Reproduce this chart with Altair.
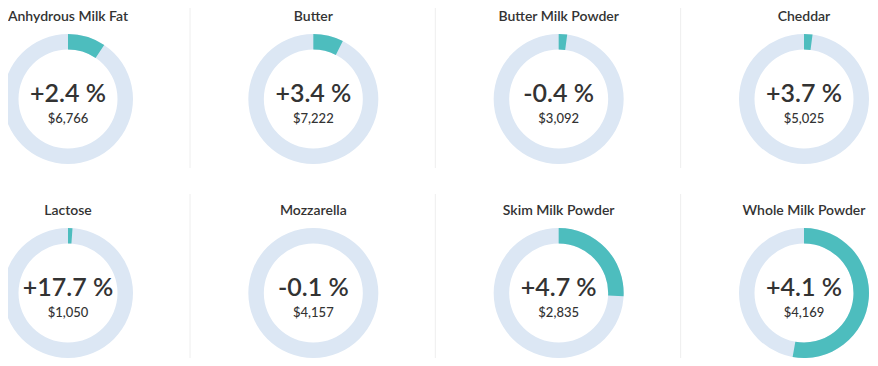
import altair as alt
import pandas as pd

names = ["Anhydrous Milk Fat", "Butter", "Butter Milk Powder", "Cheddar",
         "Lactose", "Mozzarella", "Skim Milk Powder", "Whole Milk Powder"]
changes = [2.4, 3.4, -0.4, 3.7, 17.7, -0.1, 4.7, 4.1]
prices = [6766, 7222, 3092, 5025, 1050, 4157, 2835, 4169]
shares = [0.094, 0.075, 0.021, 0.021, 0.011, 0.0, 0.258, 0.528]

rows = []
for i, (n, c, p, s) in enumerate(zip(names, changes, prices, shares)):
    rows.append({
        "name": n,
        "change": c,
        "price": p,
        "share": s,
        "col": i % 4,
        "row": i // 4,
        "change_label": ("+" if c > 0 else "") + f"{c:.1f} %",
        "price_label": f"${p:,}",
    })
df = pd.DataFrame(rows)

FONT = "Lato"
TEAL = "#4dbdbe"
RING = "#dce7f4"
TEXT = "#333333"

xs = alt.Scale(domain=[0, 3], range=[60, 796])
ys = alt.Scale(domain=[0, 1], range=[91, 285])
X = alt.X("col:Q", scale=xs, axis=None)
Y = alt.Y("row:Q", scale=ys, axis=None)

base = alt.Chart(df).transform_calculate(
    full="2*PI", part="datum.share*2*PI", zero="0"
)

ring = base.mark_arc(radius=65, radius2=49.5, color=RING).encode(
    x=X, y=Y,
    theta=alt.Theta("zero:Q", scale=None),
    theta2="full:Q",
)

arc = base.mark_arc(radius=65, radius2=49.5, color=TEAL).encode(
    x=X, y=Y,
    theta=alt.Theta("zero:Q", scale=None),
    theta2="part:Q",
)

title = base.mark_text(font=FONT, fontSize=14, fontWeight=600, color=TEXT,
                       baseline="alphabetic", dy=-78).encode(
    x=X, y=Y, text="name:N")

big = base.mark_text(font=FONT, fontSize=25, fontWeight=600, color=TEXT,
                     baseline="alphabetic", dy=3).encode(
    x=X, y=Y, text="change_label:N")

price = base.mark_text(font=FONT, fontSize=13, fontWeight=500, color=TEXT,
                       baseline="alphabetic", dy=24).encode(
    x=X, y=Y, text="price_label:N")

sep = base.transform_filter("datum.col < 3").mark_rule(
    color="#eeeeee", strokeWidth=1, xOffset=122, x2Offset=122,
    yOffset=-99, y2Offset=69).encode(
    x=X, x2="col:Q", y=Y, y2="row:Q")

chart = alt.layer(sep, ring, arc, title, big, price).properties(
    width=862, height=350,
    autosize=alt.AutoSizeParams(type="none"),
    padding=0,
).configure_view(stroke=None)

chart.save("out.html", embed_options={"renderer": "svg", "actions": False})
